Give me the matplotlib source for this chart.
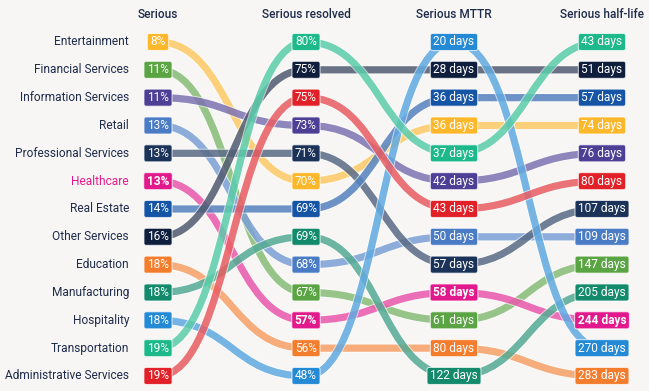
import matplotlib.pyplot as plt
import matplotlib.patheffects as pe
from matplotlib.patches import BoxStyle, PathPatch
from matplotlib.path import Path
from matplotlib.transforms import offset_copy

# DATA: each column listed top to bottom
headers = ["Serious", "Serious resolved", "Serious MTTR", "Serious half-life"]

serious_order = ["Entertainment", "Financial Services", "Information Services", "Retail",
                 "Professional Services", "Healthcare", "Real Estate", "Other Services",
                 "Education", "Manufacturing", "Hospitality", "Transportation",
                 "Administrative Services"]
serious = [8, 11, 11, 13, 13, 13, 14, 16, 18, 18, 18, 19, 19]

resolved_order = ["Transportation", "Other Services", "Administrative Services",
                  "Information Services", "Professional Services", "Entertainment",
                  "Real Estate", "Manufacturing", "Retail", "Financial Services",
                  "Healthcare", "Education", "Hospitality"]
resolved = [80, 75, 75, 73, 71, 70, 69, 69, 68, 67, 57, 56, 48]

mttr_order = ["Hospitality", "Other Services", "Real Estate", "Entertainment",
              "Transportation", "Information Services", "Administrative Services",
              "Retail", "Professional Services", "Healthcare", "Financial Services",
              "Education", "Manufacturing"]
mttr = [20, 28, 36, 36, 37, 42, 43, 50, 57, 58, 61, 80, 122]

halflife_order = ["Transportation", "Other Services", "Real Estate", "Entertainment",
                  "Information Services", "Administrative Services", "Professional Services",
                  "Retail", "Financial Services", "Manufacturing", "Healthcare",
                  "Hospitality", "Education"]
halflife = [43, 51, 57, 74, 76, 80, 107, 109, 147, 205, 244, 270, 283]

colours = {
    "Entertainment": "#fdb72b",
    "Financial Services": "#5aa444",
    "Information Services": "#4d3e96",
    "Retail": "#4a7cc6",
    "Professional Services": "#1b3358",
    "Healthcare": "#e2198c",
    "Real Estate": "#1654a6",
    "Other Services": "#0f1e3c",
    "Education": "#f47d2d",
    "Manufacturing": "#138a6c",
    "Hospitality": "#258ad6",
    "Transportation": "#1eb98a",
    "Administrative Services": "#e12027",
}
highlight = "Healthcare"

orders = [serious_order, resolved_order, mttr_order, halflife_order]
labels = [[f"{v}%" for v in serious], [f"{v}%" for v in resolved],
          [f"{v} days" for v in mttr], [f"{v} days" for v in halflife]]

BG = "#f7f6f4"
INK = "#1e2b4a"
plt.rcParams['font.family'] = ['Roboto', 'DejaVu Sans']

fig = plt.figure(figsize=(6.49, 3.91), dpi=100, facecolor=BG)
ax = fig.add_axes([0, 0, 1, 1])
ax.set_facecolor(BG)
# column i sits at 158 + 148*i px, rank r at 42 + 27.83*r px
ax.set_xlim(-158 / 148, (649 - 158) / 148)
ax.set_ylim((391 - 42) / 27.83, -42 / 27.83)
ax.axis('off')


def pill(x0, y0, width, height, mutation_size):
    hp = 0.26 * mutation_size
    vp = 0.17 * mutation_size
    return BoxStyle.Round(pad=0, rounding_size=0.18)(
        x0 - hp, y0 - vp, width + 2 * hp, height + 2 * vp, mutation_size)


# connecting ribbons
for name in serious_order:
    ranks = [o.index(name) for o in orders]
    verts = [(0, ranks[0])]
    codes = [Path.MOVETO]
    for i in range(len(ranks) - 1):
        verts += [(i + 0.5, ranks[i]), (i + 0.5, ranks[i + 1]), (i + 1, ranks[i + 1])]
        codes += [Path.CURVE4] * 3
    patch = PathPatch(Path(verts, codes), fc='none', ec=colours[name], lw=5.2,
                      alpha=0.62, capstyle='butt', zorder=1)
    patch.set_path_effects([pe.Stroke(linewidth=6.6, foreground='white'), pe.Normal()])
    ax.add_patch(patch)

# value boxes
for ci, (order, labs) in enumerate(zip(orders, labels)):
    for r, (name, lab) in enumerate(zip(order, labs)):
        ax.text(ci, r, lab, ha='center', va='center', color='white', fontsize=8.6,
                fontweight='bold' if name == highlight else 'normal', zorder=3,
                bbox=dict(boxstyle=pill, fc=colours[name], ec=(1, 1, 1, 0.7), lw=0.8))

# headers
for ci, h in enumerate(headers):
    ax.text(ci, -1, h, ha='center', va='center', color=INK, fontsize=8.6,
            fontweight='medium')

# industry names
lab_tr = offset_copy(ax.transData, fig=fig, x=-29, y=0, units='dots')
for r, name in enumerate(serious_order):
    ax.text(0, r, name, ha='right', va='center', fontsize=8.6, transform=lab_tr,
            color=colours[name] if name == highlight else INK)

fig.savefig('out.png', dpi=100, facecolor=BG)
